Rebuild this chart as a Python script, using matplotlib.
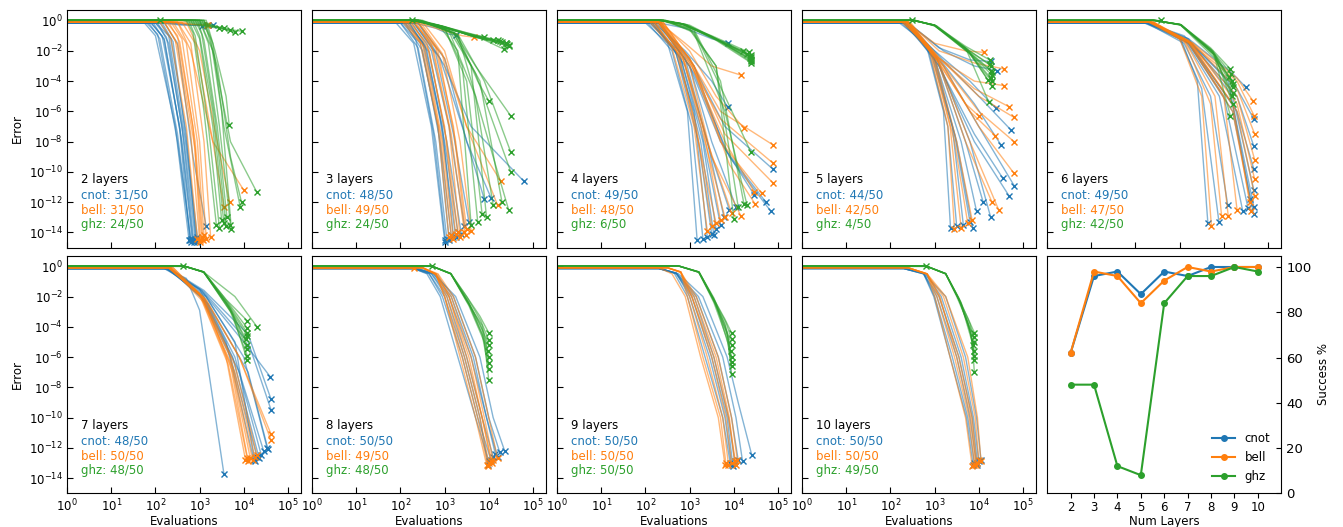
import numpy as np
import matplotlib
matplotlib.use("Agg")
import matplotlib.pyplot as plt

# ---------------- data ----------------
layers = [2, 3, 4, 5, 6, 7, 8, 9, 10]
n_runs = 50
cnot_ok = [31, 48, 49, 44, 49, 48, 50, 50, 50]
bell_ok = [31, 49, 48, 42, 47, 50, 49, 50, 50]
ghz_ok = [24, 24, 6, 4, 42, 48, 48, 50, 49]

# plateau level (log10 error) for each target
start_log_err = {"cnot": -0.15, "bell": -0.1, "ghz": 0.02}

# traces: (log10 evals where plateau ends, then log10 (evals, error) knots ...)
cnot_2 = [(1.75, 2.0, -1.0, 2.45, -7, 2.76, -14.5), (1.85, 2.1, -1.2, 2.5, -7.5, 2.8, -14.6),
          (1.9, 2.15, -1.0, 2.55, -7, 2.83, -14.4), (1.95, 2.2, -1.3, 2.6, -8, 2.85, -14.5),
          (2.0, 2.25, -1.1, 2.6, -7, 2.87, -14.6), (2.05, 2.3, -1.5, 2.65, -8, 2.9, -14.4),
          (2.1, 2.35, -1.2, 2.7, -7.5, 2.92, -14.5), (2.15, 2.4, -1.4, 2.7, -8, 2.95, -14.3),
          (2.0, 2.3, -1.0, 2.68, -8, 2.94, -14.6), (1.9, 2.2, -1.2, 2.55, -7.2, 2.78, -14.5),
          (2.2, 2.5, -1.5, 2.85, -9, 3.15, -13.6), (1.8, 2.05, -0.9, 2.5, -8, 2.8, -14.4),
          (2.2, 2.7, -0.25, 3.0, -0.3, 3.2, -0.3), (2.3, 2.8, -0.3, 3.1, -0.35, 3.3, -0.32),
          (2.1, 2.6, -0.3, 2.9, -0.3, 3.05, -0.33)]
bell_2 = [(2.1, 2.35, -1.2, 2.7, -7, 2.95, -14.4), (2.2, 2.45, -1.3, 2.8, -7.5, 3.0, -14.5),
          (2.25, 2.5, -1.0, 2.85, -7, 3.05, -14.3), (2.3, 2.55, -1.4, 2.9, -8, 3.08, -14.5),
          (2.35, 2.6, -1.2, 2.95, -8, 3.1, -14.2), (2.4, 2.7, -1.5, 3.0, -8, 3.15, -14.4),
          (2.5, 2.8, -1.5, 3.1, -8, 3.25, -14.3), (2.6, 2.9, -1.5, 3.3, -8, 3.55, -12.3),
          (2.7, 3.0, -2, 3.4, -8, 3.68, -12.0), (2.5, 2.8, -2, 3.3, -8, 4.0, -11.2),
          (2.2, 2.5, -1.6, 2.9, -8.5, 3.02, -14.6),
          (2.3, 2.8, -0.25, 3.05, -0.28, 3.17, -0.28), (2.4, 2.9, -0.25, 3.1, -0.3, 3.2, -0.3)]
ghz_2 = [(2.7, 2.85, -0.8, 3.1, -6, 3.38, -13.5), (2.75, 2.9, -1.0, 3.2, -7, 3.45, -13.7),
         (2.8, 3.0, -1.2, 3.3, -7, 3.5, -13.2), (2.9, 3.05, -0.9, 3.35, -6.5, 3.6, -13.6),
         (2.95, 3.1, -1.3, 3.4, -7, 3.62, -13.0), (3.0, 3.2, -1.5, 3.45, -7, 3.7, -13.5),
         (3.05, 3.25, -1.2, 3.5, -6, 3.72, -13.8), (3.1, 3.3, -1.5, 3.55, -7, 3.92, -12.3),
         (3.15, 3.35, -2, 3.6, -5, 3.67, -6.9), (3.0, 3.3, -2, 3.7, -8, 4.29, -11.3),
         (3.1, 3.4, -3, 3.7, -9, 3.95, -12.0), (2.85, 3.0, -1.0, 3.3, -6, 3.55, -13.4),
         (2.8, 3.2, -0.3, 3.5, -0.5, 3.55, -0.5), (2.9, 3.3, -0.35, 3.6, -0.6, 3.7, -0.65),
         (2.7, 3.1, -0.3, 3.5, -0.5, 3.8, -0.75), (3.0, 3.4, -0.4, 3.7, -0.6, 3.95, -0.7),
         (2.6, 3.0, -0.3, 3.3, -0.45, 3.45, -0.5), (2.1,)]

cnot_3 = [(1.9, 2.3, -1.5, 2.7, -7, 3.0, -14.5), (2.0, 2.4, -1.8, 2.8, -8, 3.05, -14.4),
          (2.05, 2.45, -1.5, 2.85, -7, 3.1, -14.5), (2.1, 2.5, -2, 2.9, -8, 3.15, -14.2),
          (2.15, 2.55, -1.6, 2.95, -7, 3.2, -14.3), (2.2, 2.6, -2, 3.0, -8, 3.3, -14.0),
          (2.1, 2.5, -1.4, 2.9, -6.5, 3.25, -14.3), (2.25, 2.7, -2, 3.1, -7, 3.45, -13.6),
          (2.3, 2.8, -2.2, 3.2, -7.5, 3.55, -13.3), (2.3, 2.9, -2.5, 3.4, -7, 3.9, -11.8),
          (2.4, 3.0, -2.5, 3.5, -8, 4.05, -11.7), (2.4, 3.0, -3, 3.6, -7, 4.79, -10.6),
          (2.0, 2.35, -1.3, 2.75, -7.5, 3.02, -14.6), (2.2, 2.65, -2.1, 3.05, -8, 3.38, -14.1),
          (2.3, 2.8, -0.5, 3.1, -0.9, 3.25, -0.95)]
bell_3 = [(2.05, 2.45, -1.5, 2.85, -7, 3.1, -14.3), (2.1, 2.5, -1.6, 2.9, -7.5, 3.15, -14.2),
          (2.15, 2.55, -1.8, 2.95, -8, 3.2, -14.4), (2.2, 2.6, -1.5, 3.0, -7, 3.25, -14.1),
          (2.25, 2.65, -2, 3.05, -8, 3.3, -14.0), (2.3, 2.7, -1.6, 3.1, -7, 3.35, -14.3),
          (2.35, 2.75, -2, 3.15, -7.5, 3.45, -14.0), (2.4, 2.85, -2, 3.25, -8, 3.5, -13.8),
          (2.3, 2.8, -1.8, 3.2, -7, 3.48, -14.2), (2.4, 3.0, -2.5, 3.5, -7, 4.2, -12.2),
          (2.5, 3.0, -2, 3.5, -7, 4.27, -10.6), (2.45, 2.95, -2.2, 3.35, -8, 3.6, -13.9),
          (2.4, 2.9, -0.6, 3.4, -1.0, 3.67, -1.1)]
ghz_3 = [(2.3, 2.8, -0.3, 3.5, -0.9, 4.3, -1.4), (2.35, 2.9, -0.35, 3.6, -1.0, 4.4, -1.5),
         (2.4, 3.0, -0.4, 3.7, -1.1, 4.45, -1.6), (2.3, 2.85, -0.3, 3.5, -0.8, 4.2, -1.3),
         (2.45, 3.0, -0.4, 3.6, -0.9, 4.1, -1.3), (2.3, 2.9, -0.35, 3.7, -1.0, 4.35, -1.9),
         (2.2, 2.8, -0.3, 3.4, -0.8, 3.9, -1.1), (2.25, 2.85, -0.3, 3.55, -0.95, 4.25, -1.35),
         (2.4, 2.95, -0.4, 3.65, -1.05, 4.42, -1.55), (2.3, 2.9, -0.35, 3.6, -0.95, 4.38, -1.45),
         (2.35, 2.95, -0.38, 3.7, -1.1, 4.47, -1.7),
         (2.3, 2.9, -0.4, 3.3, -2, 3.6, -13.5), (2.35, 3.0, -0.5, 3.4, -3, 3.75, -13.3),
         (2.4, 3.0, -0.5, 3.5, -4, 3.85, -12.8), (2.35, 3.1, -0.6, 3.6, -3, 3.95, -13.0),
         (2.4, 3.1, -0.7, 3.7, -5, 4.1, -12.2), (2.45, 3.2, -0.8, 3.8, -4, 4.3, -12.0),
         (2.3, 3.2, -0.7, 3.7, -3, 4.5, -6.3), (2.35, 3.3, -0.9, 3.9, -4, 4.5, -8.7),
         (2.4, 3.2, -0.8, 3.7, -3.5, 4.5, -10.0), (2.5, 3.3, -1.0, 3.75, -4, 4.0, -5.3),
         (2.4, 3.3, -0.9, 3.8, -6, 4.45, -12.5), (2.26,)]

cnot_4 = [(2.0, 2.5, -1.5, 2.95, -6, 3.17, -14.5), (2.05, 2.6, -2, 3.05, -7, 3.3, -14.4),
          (2.1, 2.65, -1.8, 3.1, -6, 3.4, -14.3), (2.15, 2.7, -2.2, 3.2, -8, 3.5, -14.1),
          (2.2, 2.8, -2.5, 3.3, -8, 3.6, -13.8), (2.1, 2.75, -2, 3.25, -7, 3.7, -13.5),
          (2.25, 2.9, -2.5, 3.4, -8, 3.78, -13.0), (2.2, 2.9, -3, 3.5, -9, 3.9, -12.5),
          (2.3, 3.0, -3, 3.5, -8, 4.05, -12.3), (2.3, 3.0, -3, 3.7, -8, 4.46, -11.5),
          (2.3, 3.1, -3, 3.8, -8.5, 4.73, -12.0), (2.35, 3.1, -3.5, 3.9, -9, 4.84, -12.6),
          (2.3, 3.0, -2.5, 3.8, -7, 4.88, -9.8), (2.2, 2.9, -2, 3.5, -4, 3.86, -5.7),
          (2.15, 2.75, -2.3, 3.25, -8, 3.55, -14.2),
          (2.3, 2.9, -0.5, 3.5, -1.2, 3.86, -1.45)]
bell_4 = [(2.1, 2.6, -1.8, 3.1, -7, 3.4, -13.9), (2.15, 2.7, -2, 3.15, -7, 3.5, -13.6),
          (2.2, 2.75, -2.2, 3.2, -8, 3.6, -13.4), (2.25, 2.8, -2, 3.3, -7, 3.7, -13.2),
          (2.3, 2.85, -2.5, 3.35, -8, 3.8, -13.0), (2.2, 2.9, -2.8, 3.4, -8, 3.95, -12.7),
          (2.3, 3.0, -3, 3.5, -9, 4.16, -12.9), (2.35, 3.0, -2.5, 3.7, -6, 4.88, -8.2),
          (2.3, 3.0, -2.8, 3.7, -6.5, 4.88, -9.4), (2.4, 3.1, -3, 3.8, -7.5, 4.88, -10.7),
          (2.35, 3.05, -3, 3.8, -8, 4.46, -11.3), (2.3, 3.0, -2.5, 3.7, -8, 4.63, -11.4),
          (2.4, 3.1, -3, 3.9, -9.5, 4.48, -12.1), (2.3, 2.9, -1.5, 3.5, -3, 4.16, -3.6),
          (2.35, 3.0, -2, 3.6, -5, 4.23, -7.1)]
ghz_4 = [(2.3, 2.8, -0.2, 3.5, -1.1, 4.39, -2.4), (2.35, 2.9, -0.25, 3.6, -1.2, 4.38, -2.6),
         (2.4, 2.9, -0.3, 3.6, -1.3, 4.4, -2.8), (2.3, 2.8, -0.2, 3.5, -1.0, 4.35, -2.1),
         (2.3, 2.85, -0.25, 3.55, -1.15, 4.3, -2.2), (2.45, 3.0, -0.3, 3.6, -1.2, 4.2, -2.0),
         (2.35, 2.85, -0.22, 3.55, -1.2, 4.37, -2.5), (2.3, 2.85, -0.22, 3.55, -1.15, 4.4, -2.3),
         (2.4, 2.95, -0.3, 3.65, -1.3, 4.38, -2.7), (2.35, 2.9, -0.25, 3.6, -1.2, 4.36, -2.35),
         (2.3, 2.8, -0.2, 3.5, -1.05, 4.39, -2.55),
         (2.4, 3.0, -0.5, 3.6, -3, 4.1, -12.3), (2.4, 3.1, -0.6, 3.7, -4, 4.23, -12.1),
         (2.35, 3.0, -0.6, 3.6, -3, 4.0, -13.1), (2.4, 3.1, -0.7, 3.8, -5, 4.39, -8.7),
         (2.45, 3.1, -0.8, 3.8, -6, 4.3, -12.2)]

cnot_5 = [(2.2, 2.8, -1.5, 3.2, -6, 3.36, -13.7), (2.25, 2.85, -1.8, 3.3, -7, 3.5, -13.6),
          (2.3, 2.9, -2, 3.4, -7, 3.65, -13.5), (2.3, 2.95, -2.2, 3.45, -7.5, 3.8, -13.3),
          (2.35, 3.0, -2.5, 3.5, -8, 3.86, -13.7), (2.3, 3.0, -2.5, 3.6, -8, 3.95, -12.6),
          (2.35, 3.05, -2.5, 3.7, -8, 4.1, -12.0), (2.4, 3.1, -2.8, 3.8, -8, 4.27, -13.0),
          (2.4, 3.1, -3, 3.9, -8, 4.69, -11.6), (2.35, 3.1, -3, 3.9, -7.5, 4.54, -10.4),
          (2.4, 3.2, -3, 4.0, -7, 4.8, -10.9), (2.35, 3.1, -2.5, 3.9, -5.5, 4.5, -8.2),
          (2.4, 3.15, -2.5, 4.0, -5, 4.72, -7.2), (2.3, 3.0, -2, 3.8, -4, 4.39, -5.8),
          (2.4, 3.1, -1.8, 3.8, -2.6, 4.27, -2.7), (2.4, 3.2, -2, 3.9, -3.0, 4.42, -3.3)]
bell_5 = [(2.25, 2.85, -1.6, 3.3, -7, 3.45, -13.8), (2.3, 2.9, -1.9, 3.35, -7, 3.6, -13.7),
          (2.35, 2.95, -2.2, 3.45, -8, 3.75, -13.4), (2.35, 3.0, -2.4, 3.5, -8, 3.85, -13.2),
          (2.4, 3.05, -2.5, 3.7, -8, 4.3, -12.0), (2.4, 3.1, -2.8, 3.8, -8, 4.45, -12.5),
          (2.4, 3.1, -2.5, 3.9, -4, 4.58, -4.3), (2.35, 3.1, -2.5, 3.9, -4.5, 4.69, -5.7),
          (2.4, 3.15, -2.6, 4.0, -5, 4.8, -6.4), (2.4, 3.15, -2.8, 4.0, -6, 4.8, -8.0),
          (2.45, 3.2, -3, 4.0, -7, 4.8, -10.1), (2.35, 3.05, -2.5, 3.8, -6, 4.37, -7.6),
          (2.3, 3.0, -2.4, 3.7, -5.5, 4.0, -6.3), (2.4, 3.1, -2.0, 3.9, -2.8, 4.58, -3.2),
          (2.35, 3.0, -1.5, 3.7, -2.0, 4.12, -2.1)]
ghz_5 = [(2.5, 3.0, -0.3, 3.7, -1.8, 4.28, -3.0), (2.5, 3.0, -0.3, 3.75, -2.0, 4.3, -3.6),
         (2.55, 3.0, -0.35, 3.8, -2.2, 4.3, -4.3), (2.5, 3.0, -0.3, 3.7, -1.7, 4.25, -2.6),
         (2.5, 3.0, -0.3, 3.8, -2.1, 4.28, -3.3), (2.55, 3.05, -0.35, 3.75, -1.9, 4.2, -3.9),
         (2.55, 3.0, -0.35, 3.7, -1.8, 4.23, -5.4), (2.5, 3.0, -0.32, 3.72, -1.9, 4.27, -3.8),
         (2.5, 3.0, -0.3, 3.75, -2.05, 4.3, -3.4), (2.55, 3.0, -0.33, 3.78, -2.15, 4.29, -4.0),
         (2.5, 3.0, -0.3, 3.7, -1.85, 4.26, -2.9), (2.49,)]

cnot_6 = [(2.2, 3.0, -1.0, 3.4, -4, 3.64, -13.4), (2.2, 3.0, -1.2, 3.5, -4.5, 3.89, -13.3),
          (2.25, 3.1, -1.5, 3.7, -5, 4.09, -12.2), (2.25, 3.1, -1.2, 3.9, -5, 4.43, -12.6),
          (2.3, 3.15, -1.3, 4.0, -5, 4.55, -12.4), (2.3, 3.2, -1.5, 4.2, -5.5, 4.68, -12.3),
          (2.25, 3.2, -1.2, 4.2, -5, 4.68, -11.2), (2.3, 3.2, -1.4, 4.3, -6, 4.68, -9.8),
          (2.35, 3.25, -1.5, 4.3, -5, 4.68, -8.3), (2.3, 3.2, -1.3, 4.3, -4.5, 4.68, -6.5),
          (2.3, 3.2, -1.2, 4.2, -3.5, 4.5, -4.4), (2.25, 3.1, -1.0, 4.1, -4, 4.6, -11.8),
          (2.3, 3.2, -1.5, 4.2, -6, 4.68, -12.8)]
bell_6 = [(2.3, 3.0, -1.2, 3.5, -5, 3.72, -13.6), (2.3, 3.1, -1.3, 3.7, -5.5, 3.95, -12.9),
          (2.35, 3.15, -1.5, 3.8, -5, 4.1, -12.9), (2.35, 3.2, -1.4, 4.0, -5, 4.3, -12.5),
          (2.4, 3.2, -1.5, 4.2, -6, 4.6, -12.0), (2.35, 3.25, -1.5, 4.3, -6, 4.7, -11.6),
          (2.4, 3.3, -1.6, 4.3, -5.5, 4.7, -10.5), (2.35, 3.2, -1.4, 4.3, -5, 4.7, -9.2),
          (2.4, 3.3, -1.5, 4.3, -4.5, 4.7, -7.5), (2.35, 3.25, -1.5, 4.3, -4, 4.69, -6.3),
          (2.4, 3.3, -1.5, 4.3, -3.8, 4.66, -5.3), (2.3, 3.2, -1.3, 4.2, -5.5, 4.62, -12.6)]
ghz_6 = [(2.4, 3.02, -0.26, 3.7, -1.8, 4.15, -3.2), (2.4, 3.02, -0.26, 3.75, -2.0, 4.18, -4.0),
         (2.4, 3.02, -0.26, 3.75, -2.2, 4.2, -4.8), (2.45, 3.02, -0.28, 3.8, -2.3, 4.2, -5.5),
         (2.4, 3.02, -0.3, 3.8, -2.5, 4.15, -6.3), (2.4, 3.0, -0.25, 3.7, -1.9, 4.12, -3.7),
         (2.45, 3.05, -0.3, 3.75, -2.1, 4.2, -4.4), (2.4, 3.02, -0.27, 3.72, -1.95, 4.17, -3.5),
         (2.45, 3.03, -0.28, 3.78, -2.25, 4.19, -5.0), (2.4, 3.02, -0.27, 3.76, -2.1, 4.2, -4.2),
         (2.57,)]

cnot_7 = [(2.2, 3.0, -1.5, 3.6, -5, 4.23, -12.8), (2.25, 3.0, -1.8, 3.7, -6, 4.3, -12.6),
          (2.3, 3.05, -2, 3.75, -6, 4.35, -12.7), (2.25, 3.1, -2, 3.8, -6, 4.4, -12.5),
          (2.3, 3.1, -2.2, 3.9, -7, 4.45, -12.2), (2.3, 3.15, -2, 4.0, -6, 4.53, -12.0),
          (2.35, 3.1, -1.8, 4.0, -5, 4.6, -7.3), (2.3, 3.1, -1.6, 4.1, -4.5, 4.62, -8.8),
          (2.3, 3.1, -1.7, 4.1, -5, 4.62, -9.5), (2.3, 3.2, -2.5, 4.1, -7, 4.55, -12.1),
          (2.2, 2.7, -0.8, 3.0, -2.9, 3.55, -13.7), (2.25, 3.05, -1.6, 3.8, -5, 4.25, -12.9)]
bell_7 = [(2.3, 3.0, -1.8, 3.6, -6, 4.04, -12.8), (2.3, 3.05, -2, 3.7, -6.5, 4.1, -12.9),
          (2.35, 3.1, -2.2, 3.75, -7, 4.15, -12.7), (2.3, 3.05, -2.0, 3.7, -6, 4.2, -12.8),
          (2.35, 3.1, -2.4, 3.8, -7, 4.25, -12.6), (2.35, 3.1, -2.1, 3.8, -6.5, 4.3, -12.5),
          (2.4, 3.15, -2.3, 3.9, -6, 4.62, -11.1), (2.4, 3.15, -2.2, 3.9, -6, 4.62, -11.5),
          (2.3, 3.0, -1.9, 3.65, -6.5, 4.08, -12.7)]
ghz_7 = [(2.64, 3.09, -0.37, 3.6, -2.2, 4.08, -3.6), (2.64, 3.09, -0.37, 3.65, -2.5, 4.08, -4.4),
         (2.64, 3.09, -0.37, 3.7, -2.8, 4.08, -5.2), (2.64, 3.1, -0.4, 3.7, -3.0, 4.08, -5.9),
         (2.64, 3.09, -0.37, 3.75, -3.2, 4.08, -6.2), (2.64, 3.1, -0.4, 3.6, -2.4, 4.05, -4.8),
         (2.64, 3.1, -0.4, 3.8, -2.0, 4.3, -4.0), (2.64, 3.09, -0.38, 3.65, -2.6, 4.08, -4.6),
         (2.64, 3.09, -0.38, 3.7, -2.9, 4.08, -5.5), (2.64, 3.1, -0.38, 3.62, -2.3, 4.08, -4.1),
         (2.62,)]

cnot_8 = [(2.3, 2.6, -0.5, 2.9, -2, 3.3, -6, 3.7, -10, 4.0, -12.9),
          (2.3, 2.65, -0.5, 2.95, -2, 3.4, -6, 3.75, -10, 4.05, -12.8),
          (2.35, 2.7, -0.5, 3.05, -2, 3.5, -6, 3.85, -10, 4.1, -12.6),
          (2.3, 2.7, -0.45, 3.1, -2, 3.6, -6, 3.95, -10, 4.15, -12.4),
          (2.4, 2.8, -0.5, 3.2, -2, 3.7, -6, 4.0, -10, 4.25, -12.3),
          (2.35, 2.75, -0.5, 3.25, -2, 3.8, -6, 4.1, -10, 4.36, -12.2),
          (2.3, 2.65, -0.5, 3.0, -2, 3.45, -6, 3.8, -10, 3.98, -13.1),
          (2.4, 2.75, -0.5, 3.15, -2, 3.65, -6, 3.95, -10, 4.2, -12.6)]
bell_8 = [(2.5, 2.8, -0.5, 3.0, -2, 3.35, -6, 3.7, -10, 3.95, -13.1),
          (2.5, 2.8, -0.55, 3.05, -2, 3.45, -6, 3.8, -10, 4.0, -13.0),
          (2.5, 2.8, -0.5, 3.1, -2, 3.55, -6, 3.85, -10, 4.05, -12.9),
          (2.5, 2.8, -0.55, 3.15, -2, 3.6, -6, 3.9, -10, 4.1, -12.8),
          (2.5, 2.85, -0.5, 3.2, -2, 3.7, -6, 4.0, -10, 4.2, -12.7),
          (2.5, 2.8, -0.5, 3.0, -2, 3.4, -6, 3.75, -10, 3.98, -13.2),
          (2.5, 2.85, -0.55, 3.1, -2, 3.5, -6, 3.85, -10, 4.08, -13.0), (2.3,)]
ghz_8 = [(2.7, 3.14, -0.48, 3.5, -2.0, 3.8, -3.3, 4.0, -4.4),
         (2.7, 3.14, -0.48, 3.5, -2.2, 3.8, -3.8, 4.0, -5.2),
         (2.7, 3.14, -0.48, 3.55, -2.4, 3.85, -4.2, 4.0, -6.0),
         (2.7, 3.14, -0.5, 3.55, -2.5, 3.85, -4.5, 4.0, -6.8),
         (2.7, 3.14, -0.5, 3.55, -2.6, 3.9, -5.0, 4.0, -7.5),
         (2.7, 3.14, -0.48, 3.5, -2.3, 3.85, -3.9, 3.98, -5.6),
         (2.7, 3.14, -0.49, 3.52, -2.1, 3.82, -3.6, 4.0, -4.9),
         (2.7, 3.14, -0.5, 3.55, -2.45, 3.87, -4.6, 4.0, -6.4), (2.72,)]

cnot_9 = [(2.3, 2.65, -0.45, 2.95, -2, 3.35, -6, 3.75, -10, 3.92, -13.0),
          (2.3, 2.7, -0.45, 3.0, -2, 3.45, -6, 3.8, -10, 3.95, -13.1),
          (2.35, 2.7, -0.5, 3.1, -2, 3.55, -6, 3.88, -10, 4.02, -12.9),
          (2.3, 2.7, -0.45, 3.15, -2, 3.65, -6, 3.95, -10, 4.1, -12.8),
          (2.3, 2.75, -0.5, 3.3, -2, 3.85, -6, 4.1, -9, 4.41, -12.5),
          (2.3, 2.7, -0.45, 3.2, -2, 3.75, -6, 4.05, -10, 4.2, -12.9),
          (2.35, 2.7, -0.5, 3.05, -2, 3.5, -6, 3.85, -10, 3.98, -13.2)]
bell_9 = [(2.5, 2.8, -0.37, 2.95, -2, 3.3, -6, 3.7, -10, 3.82, -13.0),
          (2.5, 2.8, -0.37, 3.0, -2, 3.4, -6, 3.75, -10, 3.88, -13.1),
          (2.5, 2.8, -0.4, 3.05, -2, 3.5, -6, 3.82, -10, 3.95, -13.0),
          (2.5, 2.8, -0.37, 3.1, -2, 3.6, -6, 3.9, -10, 4.02, -12.9),
          (2.5, 2.8, -0.4, 3.15, -2, 3.65, -6, 3.95, -10, 4.08, -12.8),
          (2.5, 2.8, -0.4, 3.05, -2, 3.55, -6, 3.88, -10, 4.05, -13.1),
          (2.3, 2.6, -0.5, 2.9, -2, 3.25, -6, 3.65, -10, 3.8, -13.1)]
ghz_9 = [(2.75, 3.21, -0.37, 3.5, -1.9, 3.8, -3.5, 3.95, -4.4),
         (2.75, 3.21, -0.37, 3.55, -2.1, 3.8, -3.9, 3.95, -5.2),
         (2.75, 3.21, -0.4, 3.55, -2.3, 3.85, -4.4, 3.95, -6.0),
         (2.75, 3.21, -0.4, 3.55, -2.4, 3.85, -4.8, 3.95, -6.6),
         (2.75, 3.22, -0.4, 3.6, -2.5, 3.88, -5.2, 3.95, -7.1),
         (2.75, 3.2, -0.37, 3.5, -2.0, 3.8, -3.8, 3.93, -5.6),
         (2.75, 3.21, -0.38, 3.52, -2.05, 3.82, -3.7, 3.95, -4.8),
         (2.75, 3.21, -0.39, 3.57, -2.35, 3.86, -4.6, 3.95, -6.3)]

cnot_10 = [(2.3, 2.75, -0.45, 3.0, -2, 3.4, -6, 3.75, -10, 3.9, -13.0),
           (2.3, 2.75, -0.5, 3.05, -2, 3.5, -6, 3.8, -10, 3.95, -13.1),
           (2.35, 2.8, -0.5, 3.15, -2, 3.6, -6, 3.88, -10, 4.0, -12.9),
           (2.3, 2.75, -0.45, 3.25, -2, 3.7, -6, 3.95, -10, 4.05, -12.8),
           (2.3, 2.75, -0.5, 3.1, -2, 3.55, -6, 3.85, -10, 3.97, -13.0),
           (2.3, 2.75, -0.5, 2.98, -2, 3.35, -6, 3.72, -10, 3.87, -13.1)]
bell_10 = [(2.4, 2.83, -0.5, 3.0, -2, 3.35, -6, 3.7, -10, 3.85, -13.2),
           (2.4, 2.83, -0.5, 3.05, -2, 3.45, -6, 3.78, -10, 3.9, -13.1),
           (2.4, 2.83, -0.5, 3.1, -2, 3.55, -6, 3.85, -10, 3.95, -13.0),
           (2.4, 2.83, -0.55, 3.2, -2, 3.65, -6, 3.92, -10, 4.0, -12.8),
           (2.4, 2.83, -0.5, 3.25, -2, 3.75, -6, 3.97, -10, 4.05, -12.9),
           (2.4, 2.83, -0.5, 3.12, -2, 3.5, -6, 3.82, -10, 3.93, -13.1)]
ghz_10 = [(2.8, 3.25, -0.48, 3.5, -1.9, 3.75, -3.4, 3.9, -4.4),
          (2.8, 3.25, -0.48, 3.55, -2.1, 3.8, -3.8, 3.9, -5.0),
          (2.8, 3.25, -0.5, 3.55, -2.2, 3.8, -4.2, 3.9, -5.6),
          (2.8, 3.25, -0.5, 3.6, -2.4, 3.82, -4.5, 3.9, -6.2),
          (2.8, 3.25, -0.48, 3.5, -2.0, 3.75, -3.7, 3.88, -5.2),
          (2.8, 3.25, -0.5, 3.6, -2.5, 3.85, -5.0, 3.9, -7.0),
          (2.8, 3.25, -0.49, 3.53, -2.05, 3.78, -3.9, 3.9, -4.7),
          (2.8, 3.25, -0.5, 3.57, -2.3, 3.81, -4.3, 3.9, -5.9), (2.8,)]

traces = {
    2: (cnot_2, bell_2, ghz_2), 3: (cnot_3, bell_3, ghz_3), 4: (cnot_4, bell_4, ghz_4),
    5: (cnot_5, bell_5, ghz_5), 6: (cnot_6, bell_6, ghz_6), 7: (cnot_7, bell_7, ghz_7),
    8: (cnot_8, bell_8, ghz_8), 9: (cnot_9, bell_9, ghz_9), 10: (cnot_10, bell_10, ghz_10),
}

names = ["cnot", "bell", "ghz"]
colors = ["#1f77b4", "#ff7f0e", "#2ca02c"]
ok_counts = [cnot_ok, bell_ok, ghz_ok]

# ---------------- figure ----------------
fig, axes = plt.subplots(2, 5, figsize=(13.43, 5.27), dpi=100)
fig.subplots_adjust(left=0.050, right=0.954, top=0.981, bottom=0.064,
                    wspace=0.047, hspace=0.034)

FS = 8.5
for i, L in enumerate(layers):
    ax = axes.flat[i]
    for s, (name, col) in enumerate(zip(names, colors)):
        y0 = start_log_err[name]
        for t in traces[L][s]:
            lx = [0.0, t[0]] + list(t[1::2])
            ly = [y0, y0] + list(t[2::2])
            xs = np.power(10.0, lx)
            ys = np.power(10.0, ly)
            ax.plot(xs, ys, color=col, lw=1.0, alpha=0.55)
            ax.plot(xs[-1:], ys[-1:], "x", color=col, ms=4, mew=1.0)
    ax.set_xscale("log")
    ax.set_yscale("log")
    ax.set_xlim(1, 2e5)
    ax.set_ylim(1e-15, 5)
    ax.set_xticks([10.0 ** k for k in range(6)])
    ax.set_yticks([10.0 ** k for k in range(0, -15, -2)])
    ax.minorticks_off()
    ax.tick_params(direction="in", labelsize=FS, length=4, pad=3)
    if i % 5 != 0:
        ax.set_yticklabels([])
    else:
        ax.set_ylabel("Error", fontsize=FS)
    if i < 5:
        ax.set_xticklabels([])
    else:
        ax.set_xlabel("Evaluations", fontsize=FS, labelpad=1)
    ax.text(0.06, 0.27, f"{L} layers", transform=ax.transAxes, fontsize=FS, color="black")
    for s in range(3):
        ax.text(0.06, 0.27 - 0.063 * (s + 1), f"{names[s]}: {ok_counts[s][i]}/{n_runs}",
                transform=ax.transAxes, fontsize=FS, color=colors[s])

# success panel
ax = axes.flat[9]
for s in range(3):
    pct = [100.0 * c / n_runs for c in ok_counts[s]]
    ax.plot(layers, pct, "-o", color=colors[s], lw=1.5, ms=4, label=names[s])
ax.set_xlim(1, 11)
ax.set_ylim(0, 105)
ax.set_xticks(layers)
ax.set_yticks([0, 20, 40, 60, 80, 100])
ax.yaxis.tick_right()
ax.yaxis.set_label_position("right")
ax.tick_params(axis="x", labelsize=FS, pad=2)
ax.tick_params(axis="y", labelsize=9.5, direction="in")
ax.set_xlabel("Num Layers", fontsize=FS, labelpad=1)
ax.set_ylabel("Success %", fontsize=FS)
ax.legend(loc="lower right", frameon=False, fontsize=FS)

fig.savefig("out.png", dpi=100)
